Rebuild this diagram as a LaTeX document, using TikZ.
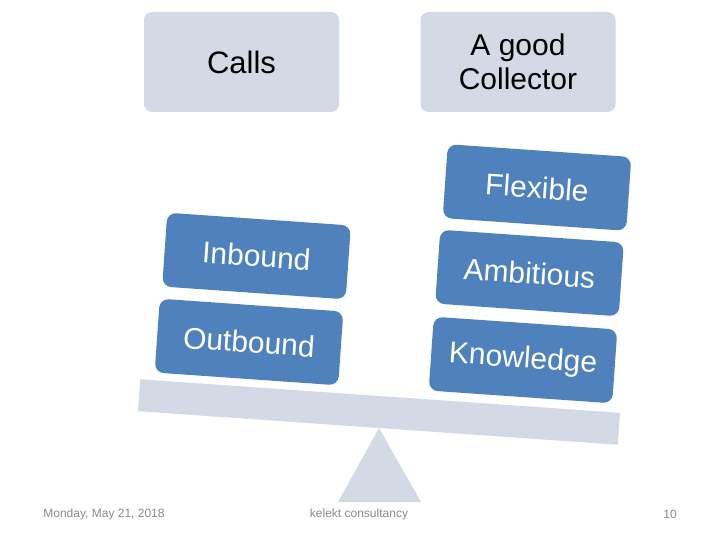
\documentclass[tikz,border=0pt]{standalone}
\usepackage{fontspec}
\setmainfont{Liberation Sans}

\definecolor{slateblue}{RGB}{79,129,189}
\definecolor{paleblue}{RGB}{211,218,230}
\definecolor{footgray}{RGB}{137,137,137}

\tikzset{
  headbox/.style={fill=paleblue, rounded corners=8pt, minimum width=195pt,
    minimum height=100pt, align=center, font=\fontsize{30}{34}\selectfont},
  tiltbox/.style={fill=slateblue, text=white, rounded corners=9pt,
    minimum width=184pt, minimum height=74pt, rotate=-4,
    font=\fontsize{30}{34}\selectfont},
  footer/.style={text=footgray, font=\fontsize{12}{14}\selectfont}
}

\begin{document}
\begin{tikzpicture}[x=1pt, y=-1pt]
\useasboundingbox (0,0) rectangle (720,540);

% Headings of the two pans
\node[headbox, font=\fontsize{31}{34}\selectfont] (calls) at (241.5, 62) {Calls};
\node[headbox] (collector) at (518, 62) {A good\\Collector};

% Left pan
\node[tiltbox] (inbound) at (256.5, 256) {Inbound};
\node[tiltbox] (outbound) at (249, 342) {Outbound};

% Right pan
\node[tiltbox] (flexible) at (537, 187.5) {Flexible};
\node[tiltbox] (ambitious) at (529.5, 273) {Ambitious};
\node[tiltbox] (knowledge) at (523, 360) {Knowledge};

% Beam and fulcrum
\node[fill=paleblue, inner sep=0pt, minimum width=481pt, minimum height=32pt,
  rotate=-4] (beam) at (379, 412) {};
\coordinate (apex) at (379, 428);
\fill[paleblue] (apex) -- (338, 502) -- (421, 502) -- cycle;

% Footer
\node[footer] (date) at (104, 514.5) {Monday, May 21, 2018};
\node[footer] (company) at (359, 514.5) {kelekt consultancy};
\node[footer] (pageno) at (670, 514.5) {10};

\end{tikzpicture}
\end{document}
